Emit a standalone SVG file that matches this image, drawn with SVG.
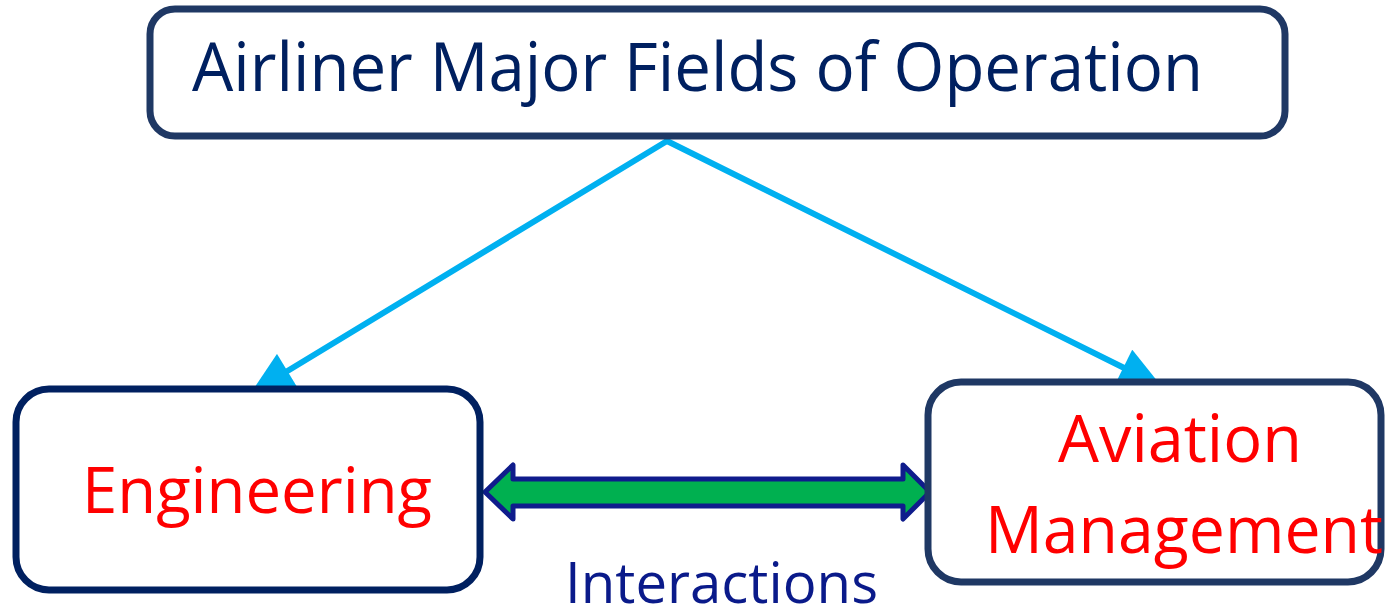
<svg xmlns="http://www.w3.org/2000/svg" width="1385" height="608" viewBox="0 0 1385 608">
  <style>
    .box { fill: #ffffff; stroke-width: 7; }
    .txt { font-family: "Open Sans", "Noto Sans", sans-serif; }
    .red { fill: #ff0000; }
    .conn { stroke: #00b0f0; stroke-width: 6; fill: none; stroke-linecap: round; }
  </style>
  <defs>
    <marker id="head" markerUnits="userSpaceOnUse" markerWidth="44" markerHeight="40" viewBox="0 0 43 40" refX="10" refY="20" orient="auto">
      <path d="M0,0 L43,20 L0,40 Z" fill="#00b0f0"/>
    </marker>
  </defs>
  <rect width="1385" height="608" fill="#ffffff"/>
  <g id="connectors">
    <line class="conn" x1="667" y1="141" x2="278.8" y2="376.2" marker-end="url(#head)"/>
    <line class="conn" x1="667" y1="141" x2="1132.3" y2="372.0" marker-end="url(#head)"/>
    <path id="interaction-arrow" d="M485,492 L513,465 L513,479 L903,479 L903,465 L930,492 L903,519 L903,506 L513,506 L513,519 Z" fill="#00b050" stroke="#0f1c8c" stroke-width="5" stroke-linejoin="round"/>
  </g>
  <g id="title">
    <rect class="box" x="150" y="9" width="1135" height="127" rx="25" stroke="#1f3864"/>
    <text class="txt" x="192" y="91" font-size="67" fill="#002060" textLength="1011" lengthAdjust="spacingAndGlyphs">Airliner Major Fields of Operation</text>
  </g>
  <g id="engineering">
    <rect class="box" x="16" y="389" width="464" height="201" rx="33" stroke="#002060"/>
    <text class="txt red" x="82" y="513" font-size="64" textLength="350" lengthAdjust="spacingAndGlyphs">Engineering</text>
  </g>
  <g id="aviation-management">
    <rect class="box" x="928" y="382" width="453" height="200" rx="33" stroke="#1f3864"/>
    <text class="txt red" x="1058" y="462" font-size="66" textLength="244" lengthAdjust="spacingAndGlyphs">Aviation</text>
    <text class="txt red" x="985" y="553" font-size="66" textLength="398" lengthAdjust="spacingAndGlyphs">Management</text>
  </g>
  <g id="interactions-label">
    <text class="txt" x="565" y="603" font-size="56" fill="#0a1a8a" textLength="313" lengthAdjust="spacingAndGlyphs">Interactions</text>
  </g>
</svg>
